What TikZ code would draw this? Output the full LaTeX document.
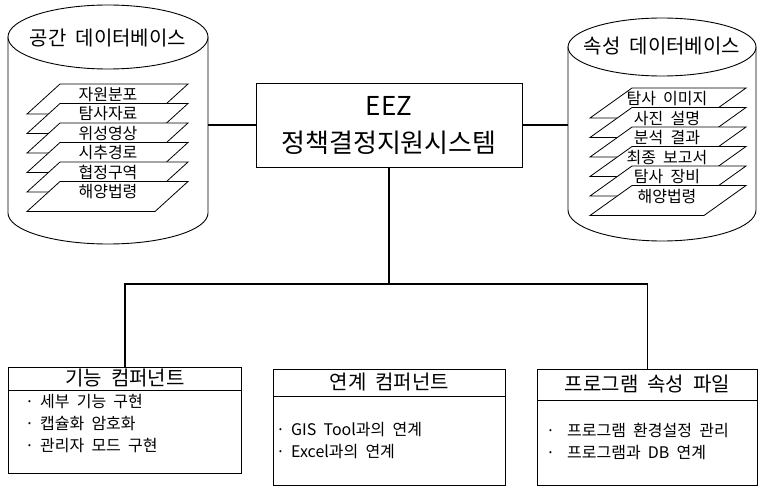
\documentclass[tikz,border=0pt]{standalone}
\usepackage{fontspec}
\setmainfont{Noto Sans CJK KR}[WordSpace=2]
\begin{document}
\begin{tikzpicture}[x=1pt,y=1pt,
  cyl/.style={draw, line width=0.9pt, fill=white},
  layer/.style={draw, line width=0.8pt, fill=white},
  ltext/.style={inner sep=0pt, font=\fontsize{16}{18}\selectfont},
  dbtitle/.style={inner sep=0pt, font=\fontsize{20}{24}\selectfont},
  conn/.style={draw, line width=1.3pt},
  boxline/.style={draw, line width=0.9pt},
  hdr/.style={inner sep=0pt, font=\fontsize{20}{22}\selectfont},
  item/.style={inner sep=0pt, anchor=west, font=\fontsize{16}{19}\selectfont},
  ghost/.style={inner sep=0pt, minimum height=1pt}
]
\useasboundingbox (0,0) rectangle (759,-487);

% ---------- left cylinder ----------
\node[ghost, minimum width=200pt] (ldb) at (108,-125) {};
\draw[cyl] (8,-37) -- (8,-213) arc[start angle=180,end angle=360,x radius=100,y radius=31] -- (208,-37);
\draw[cyl] (108,-37) ellipse[x radius=100,y radius=32];
\node[dbtitle] (ltitle) at (108,-38) {공간 데이터베이스};
\foreach \t [count=\i from 0] in {자원분포,탐사자료,위성영상,시추경로,협정구역,해양법령}{
  \pgfmathsetmacro\yy{-84-19.5*\i}
  \draw[layer] (27,\yy-30) -- (155,\yy-30) -- (188,\yy) -- (60,\yy) -- cycle;
}
\foreach \t [count=\i from 0] in {자원분포,탐사자료,위성영상,시추경로,협정구역,해양법령}{
  \pgfmathsetmacro\yy{-84-19.5*\i}
  \node[ltext] (lt\i) at (108,\yy-10.5) {\t};
}

% ---------- right cylinder ----------
\node[ghost, minimum width=188pt] (rdb) at (662,-125) {};
\draw[cyl] (568,-47) -- (568,-210) arc[start angle=180,end angle=360,x radius=94,y radius=31] -- (756,-47);
\draw[cyl] (662,-47) ellipse[x radius=94,y radius=29];
\node[dbtitle] (rtitle) at (662,-46) {속성 데이터베이스};
\foreach \t [count=\i from 0] in {탐사 이미지,사진 설명,분석 결과,최종 보고서,탐사 장비,해양법령}{
  \pgfmathsetmacro\yy{-88-19.5*\i}
  \draw[layer] (590,\yy-30) -- (704,\yy-30) -- (746,\yy) -- (632,\yy) -- cycle;
}
\foreach \t [count=\i from 0] in {탐사 이미지,사진 설명,분석 결과,최종 보고서,탐사 장비,해양법령}{
  \pgfmathsetmacro\yy{-88-19.5*\i}
  \node[ltext] (rt\i) at (667,\yy-11) {\t};
}

% ---------- central system ----------
\node[boxline, minimum width=266pt, minimum height=84pt, align=center,
      font=\fontsize{26}{37}\selectfont] (sys) at (389,-125) {EEZ\\정책결정지원시스템};
\draw[conn] (ldb.east) -- (sys.west);
\draw[conn] (sys.east) -- (rdb.west);

% ---------- bottom boxes ----------
\node[boxline, minimum width=233pt, minimum height=106pt, anchor=north west, inner sep=0pt] (f1) at (8,-367) {};
\draw[boxline] ([yshift=-23pt]f1.north west) -- ([yshift=-23pt]f1.north east);
\node[hdr] (f1h) at ([yshift=-11.5pt]f1.north) {기능 컴퍼넌트};
\node[item] (f1a) at (25,-402) {·\hspace{6pt}세부 기능 구현};
\node[item] (f1b) at (25,-424) {·\hspace{6pt}캡슐화 암호화};
\node[item] (f1c) at (25,-446) {·\hspace{6pt}관리자 모드 구현};

\node[boxline, minimum width=232pt, minimum height=116pt, anchor=north west, inner sep=0pt] (f2) at (273,-369) {};
\draw[boxline] ([yshift=-27pt]f2.north west) -- ([yshift=-27pt]f2.north east);
\node[hdr] (f2h) at ([yshift=-13.5pt]f2.north) {연계 컴퍼넌트};
\node[item] (f2a) at (276,-430) {·\hspace{6pt}GIS Tool과의 연계};
\node[item] (f2b) at (276,-452) {·\hspace{6pt}Excel과의 연계};

\node[boxline, minimum width=220pt, minimum height=116pt, anchor=north west, inner sep=0pt] (f3) at (537,-369) {};
\draw[boxline] ([yshift=-31pt]f3.north west) -- ([yshift=-31pt]f3.north east);
\node[hdr] (f3h) at ([yshift=-15.5pt]f3.north) {프로그램 속성 파일};
\node[item] (f3a) at (546,-430) {·\hspace{12pt}프로그램 환경설정 관리};
\node[item] (f3b) at (546,-453) {·\hspace{12pt}프로그램과 DB 연계};

% ---------- tree connectors ----------
\coordinate (bar) at (0,-284);
\draw[conn] (sys.south) -- (sys.south |- bar);
\draw[conn] (f1.north) -- (f1.north |- bar) -- (f3.north |- bar) -- (f3.north);
\end{tikzpicture}
\end{document}
